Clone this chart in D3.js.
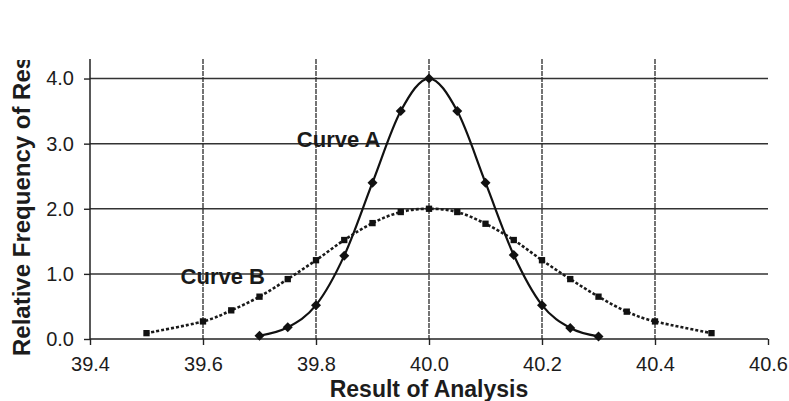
<!DOCTYPE html>
<html>
<head>
<meta charset="utf-8">
<script src="https://cdn.jsdelivr.net/npm/d3@7"></script>
<style>
  body { margin: 0; background: #fff; }
  svg { display: block; font-family: Arial, "Liberation Sans", sans-serif; }
</style>
</head>
<body>
<svg id="chart" width="789" height="401"></svg>
<script>
// data
var curveAX = [39.7, 39.75, 39.8, 39.85, 39.9, 39.95, 40.0, 40.05, 40.1, 40.15, 40.2, 40.25, 40.3];
var curveAY = [0.05, 0.18, 0.52, 1.28, 2.4, 3.5, 4.0, 3.5, 2.4, 1.29, 0.52, 0.17, 0.04];

var curveBX = [39.5, 39.6, 39.65, 39.7, 39.75, 39.8, 39.85, 39.9, 39.95, 40.0,
               40.05, 40.1, 40.15, 40.2, 40.25, 40.3, 40.35, 40.4, 40.5];
var curveBY = [0.09, 0.27, 0.44, 0.65, 0.92, 1.21, 1.52, 1.78, 1.95, 2.0,
               1.95, 1.77, 1.52, 1.21, 0.92, 0.65, 0.42, 0.27, 0.09];

var xTicks = [39.4, 39.6, 39.8, 40.0, 40.2, 40.4, 40.6];
var yTicks = [0, 1, 2, 3, 4];

var svg = d3.select("#chart"),
    margin = {top: 59, right: 21, bottom: 62, left: 90},
    width = +svg.attr("width") - margin.left - margin.right,
    height = +svg.attr("height") - margin.top - margin.bottom;

var x = d3.scaleLinear().domain([39.4, 40.6]).range([0, width]),
    y = d3.scaleLinear().domain([0, 4.3]).range([height, 0]);

var g = svg.append("g")
    .attr("transform", "translate(" + margin.left + "," + margin.top + ")");

// horizontal grid
g.append("g")
    .selectAll("line")
    .data(yTicks.slice(1))
    .enter().append("line")
    .attr("x1", 0)
    .attr("x2", width)
    .attr("y1", function (d) { return y(d); })
    .attr("y2", function (d) { return y(d); })
    .attr("stroke", "#333")
    .attr("stroke-width", 1.5);

// vertical grid (dotted-ish like the scan)
g.append("g")
    .selectAll("line")
    .data(xTicks.slice(1, -1))
    .enter().append("line")
    .attr("x1", function (d) { return x(d); })
    .attr("x2", function (d) { return x(d); })
    .attr("y1", 0)
    .attr("y2", height)
    .attr("stroke", "#2a2a2a")
    .attr("stroke-width", 1.3)
    .attr("stroke-dasharray", "5,1");

// axes
var xAxis = g.append("g")
    .attr("class", "axis axis--x")
    .attr("transform", "translate(0," + height + ")")
    .call(d3.axisBottom(x).tickValues(xTicks).tickFormat(d3.format(".1f")).tickSize(6).tickPadding(12));

var yAxis = g.append("g")
    .attr("class", "axis axis--y")
    .call(d3.axisLeft(y).tickValues(yTicks).tickFormat(d3.format(".1f")).tickSize(6).tickPadding(10));

g.selectAll(".axis")
    .attr("font-size", null)
    .attr("font-family", null);
g.selectAll(".axis .domain")
    .attr("stroke", "#222")
    .attr("stroke-width", 1.5);
g.selectAll(".axis line")
    .attr("stroke", "#222")
    .attr("stroke-width", 1.4);
g.selectAll(".axis text")
    .attr("fill", "#1c1c1c")
    .style("font-size", "20px");
yAxis.select(".domain").attr("d", "M0," + height + "V0");
xAxis.select(".domain").attr("d", "M0,0H" + width);

// axis titles
svg.append("defs").append("clipPath")
    .attr("id", "ylabclip")
    .append("rect")
    .attr("x", 0).attr("y", 60)
    .attr("width", 60).attr("height", 340);

svg.append("g")
    .attr("clip-path", "url(#ylabclip)")
    .append("text")
    .attr("transform", "translate(30,356) rotate(-90)")
    .attr("text-anchor", "start")
    .attr("fill", "#1c1c1c")
    .style("font-size", "24px")
    .style("font-weight", "bold")
    .text("Relative Frequency of Result");

svg.append("text")
    .attr("x", margin.left + x(40.0))
    .attr("y", 397)
    .attr("text-anchor", "middle")
    .attr("fill", "#1c1c1c")
    .style("font-size", "23px")
    .style("font-weight", "bold")
    .text("Result of Analysis");

// curves
var dataA = curveAX.map(function (d, i) { return {x: d, y: curveAY[i]}; });
var dataB = curveBX.map(function (d, i) { return {x: d, y: curveBY[i]}; });

var line = d3.line()
    .x(function (d) { return x(d.x); })
    .y(function (d) { return y(d.y); })
    .curve(d3.curveCardinal.tension(0));

g.append("path")
    .datum(dataB)
    .attr("fill", "none")
    .attr("stroke", "#1a1a1a")
    .attr("stroke-width", 2.6)
    .attr("stroke-dasharray", "3,2")
    .attr("d", line);

g.append("path")
    .datum(dataA)
    .attr("fill", "none")
    .attr("stroke", "#111")
    .attr("stroke-width", 2.2)
    .attr("d", line);

g.selectAll(".markB")
    .data(dataB)
    .enter().append("path")
    .attr("class", "markB")
    .attr("transform", function (d) { return "translate(" + x(d.x) + "," + y(d.y) + ")"; })
    .attr("d", d3.symbol().type(d3.symbolSquare).size(40))
    .attr("fill", "#111");

g.selectAll(".markA")
    .data(dataA)
    .enter().append("path")
    .attr("class", "markA")
    .attr("transform", function (d) { return "translate(" + x(d.x) + "," + y(d.y) + ") rotate(45)"; })
    .attr("d", d3.symbol().type(d3.symbolSquare).size(50))
    .attr("fill", "#111");

// curve labels
g.append("text")
    .attr("x", x(39.84))
    .attr("y", y(2.95))
    .attr("text-anchor", "middle")
    .attr("fill", "#1a1a1a")
    .style("font-size", "22px")
    .style("font-weight", "bold")
    .text("Curve A");

g.append("text")
    .attr("x", x(39.635))
    .attr("y", y(0.85))
    .attr("text-anchor", "middle")
    .attr("fill", "#1a1a1a")
    .style("font-size", "22px")
    .style("font-weight", "bold")
    .text("Curve B");
</script>
</body>
</html>
